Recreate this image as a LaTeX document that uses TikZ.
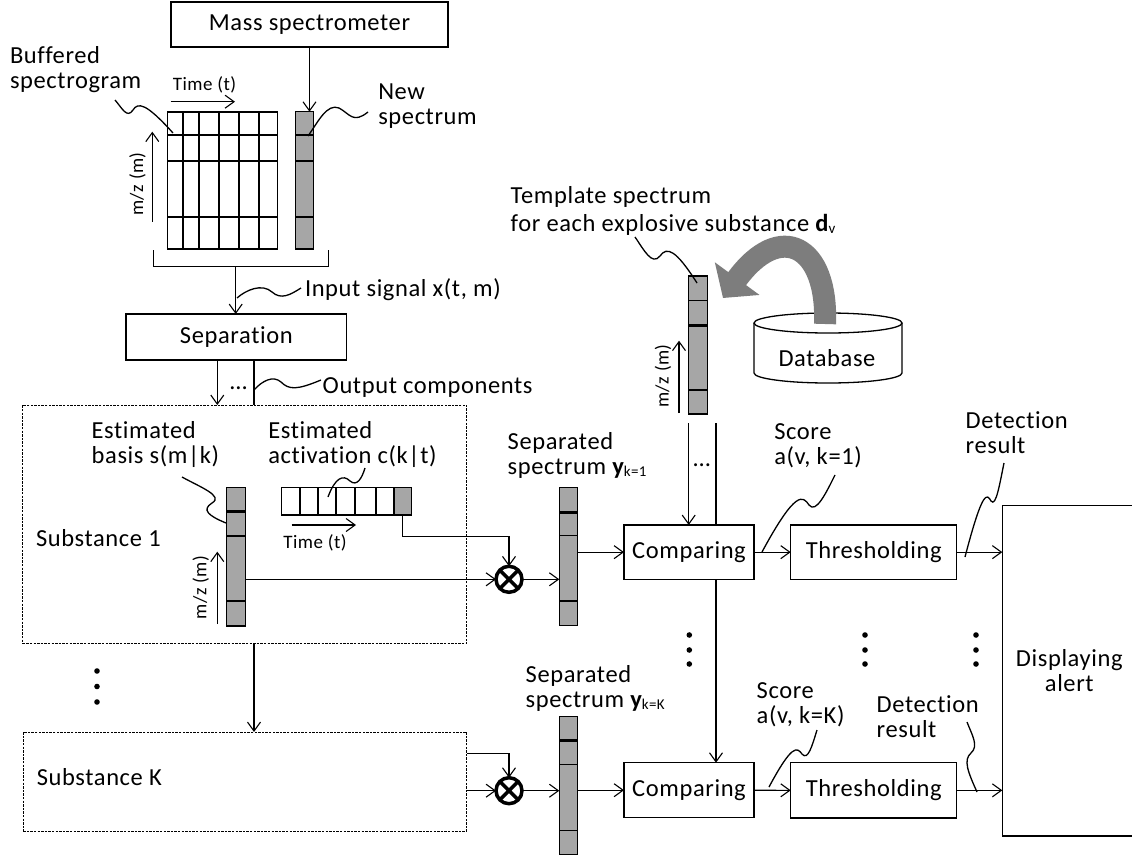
\documentclass[tikz,border=0pt]{standalone}
\usepackage{fontspec}
\setmainfont{Carlito}[LetterSpace=2.5,Ligatures=NoCommon]
\usetikzlibrary{arrows.meta,calc}
\definecolor{colg}{RGB}{166,166,166}
\definecolor{bigarr}{RGB}{125,125,125}
\begin{document}
\begin{tikzpicture}[x=1pt,y=-1pt,
 every node/.style={inner sep=0pt, outer sep=0pt, font=\fontsize{24.5}{25}\selectfont},
 bx/.style={draw, line width=1.3pt, fill=white},
 dbox/.style={draw, line width=0.9pt, dash pattern=on 2.4pt off 1.2pt, fill=white},
 cl/.style={draw, line width=1.4pt, fill=colg},
 arr/.style={line width=1.1pt, -{Straight Barb[length=9pt,width=13pt]}},
 thk/.style={line width=2.6pt},
 thn/.style={line width=1.1pt},
 call/.style={line width=1.3pt},
 small/.style={font=\fontsize{19}{20}\selectfont},
 mult/.style={circle, draw, line width=3.5pt, minimum size=26pt, fill=white}
]
\useasboundingbox (0,0) rectangle (1132,859);
\fill[white] (0,0) rectangle (1132,859);

% ---- top: mass spectrometer and spectrogram
\node[bx, minimum width=277, minimum height=45] (mass) at (309.5,24.5) {Mass spectrometer};

\node[draw, line width=1.6pt, fill=white, anchor=north west, minimum width=110, minimum height=137.3] (spg) at (167.3,111.7) {};
\foreach \x in {183.3,199,219,239,259} \draw[line width=1.8pt] (\x,111.7) -- (\x,249);
\draw[thn] (167.3,135) -- (277.3,135);
\draw[thk] (167.3,161) -- (277.3,161);
\draw[thk] (167.3,217) -- (277.3,217);

\node[cl, anchor=north west, minimum width=17.6, minimum height=137.3] (newsp) at (295.7,111.7) {};
\draw[thn] (295.7,135) -- (313.3,135);
\draw[thk] (295.7,161) -- (313.3,161);
\draw[thk] (295.7,217) -- (313.3,217);

\draw[arr] (mass.south) -- (mass.south |- newsp.north);

\coordinate (ta1) at (170.7,101.7); \coordinate (ta2) at (235,101.7);
\draw[arr] (ta1) -- (ta2);
\node[small] (tlab1) at (204.5,85) {Time (t)};
\coordinate (ma1) at (152.3,221.7); \coordinate (ma2) at (152.3,131.7);
\draw[arr] (ma1) -- (ma2);
\node[small, rotate=90] (mlab1) at (137.5,184) {m/z (m)};

\node[anchor=west, align=left] (lbuf) at (10,69.5) {Buffered\\spectrogram};
\node[anchor=west, align=left] (lnew) at (378.3,106) {New\\spectrum};
\draw[call] (115,100) .. controls (122,108) and (127,119) .. (133,110) .. controls (138,102) and (146,103) .. (173,133);
\draw[call] (308,136) .. controls (318,122) and (327,103) .. (339,108) .. controls (350,114) and (353,124) .. (368,112);

% bracket
\coordinate (br1) at (153.3,250); \coordinate (br2) at (328.3,250);
\coordinate (brm) at (235.7,266.7);
\draw[thn] (br1) -- (br1 |- brm) -- (br2 |- brm) -- (br2);

\node[bx, minimum width=220.7, minimum height=46] (sep) at (236.35,337) {Separation};
\draw[arr] (brm) -- (brm |- sep.north);
\node[anchor=west] (linp) at (305,290) {Input signal x(t, m)};
\draw[call] (237,298) .. controls (246,290) and (262,283) .. (272,292) .. controls (281,300) and (290,295) .. (301,288);

% ---- template and database
\node[anchor=west, align=left] (ltmp) at (510.7,211) {Template spectrum\\[3pt]for each explosive substance {\bfseries d}\raisebox{-2pt}{\fontsize{15}{15}\selectfont v}};
\node[cl, anchor=north west, minimum width=19, minimum height=138] (tmpl) at (688.3,276) {};
\draw[thn] (688.3,300.7) -- (707.3,300.7);
\draw[thk] (688.3,325.7) -- (707.3,325.7);
\draw[thk] (688.3,390) -- (707.3,390);
\coordinate (mt1) at (679,413); \coordinate (mt2) at (679,340.7);
\draw[arr] (mt1) -- (mt2);
\node[small, rotate=90] (mlab2) at (663,376) {m/z (m)};
\draw[call] (635,237) .. controls (644,250) and (652,266) .. (660,256) .. controls (667,246) and (676,250) .. (697,283);

\draw[line width=1.3pt, fill=white] (754,323) -- (754,373) arc[start angle=180,end angle=360,x radius=74pt,y radius=10pt] -- (902,323);
\draw[line width=1.3pt, fill=white] (828,323) ellipse [x radius=74pt, y radius=10pt];
\node (db) at (827,358) {Database};
\coordinate (ba1) at (825,324); \coordinate (ba2) at (723,298);
\draw[line width=22pt, color=bigarr, -{Triangle[length=24pt,width=54pt]}] (ba1) .. controls (828,245) and (780,220) .. (ba2);

% ---- substance 1
\node[dbox, minimum width=444, minimum height=238.3] (sub1) at (244.7,524.15) {};
\node[anchor=west] (lsub1) at (36,538) {Substance 1};
\coordinate (o1) at (217.3,360); \coordinate (o2) at (254,360);
\draw[arr] (o1) -- (o1 |- sub1.north);
\draw[thn] (o2) -- (o2 |- sub1.north);
\node (dots1) at (238.5,388) {\dots};
\node[anchor=west] (lout) at (322.7,388) {Output components};
\draw[call] (254,390) .. controls (262,381) and (273,375) .. (281,382) .. controls (289,390) and (297,390) .. (321,380);

\node[cl, anchor=north west, minimum width=19, minimum height=138.7] (basis) at (226.7,487.3) {};
\draw[thk] (226.7,511.7) -- (245.7,511.7);
\draw[thn] (226.7,536) -- (245.7,536);
\draw[thk] (226.7,601) -- (245.7,601);
\coordinate (mb1) at (217.3,624); \coordinate (mb2) at (217.3,551.7);
\draw[arr] (mb1) -- (mb2);
\node[small, rotate=90] (mlab3) at (200.8,587.5) {m/z (m)};
\node[anchor=west, align=left] (lbas) at (91.7,445) {Estimated\\basis s(m|k)};
\draw[call] (182,477) .. controls (200,487) and (224,496) .. (212,503) .. controls (201,510) and (209,516) .. (226,523);

\node[draw, line width=1.4pt, fill=white, anchor=north west, minimum width=130, minimum height=27.7] (act) at (281.7,487.3) {};
\node[cl, anchor=north west, minimum width=17.7, minimum height=27.7] (actl) at (394,487.3) {};
\foreach \x in {300,318.3,335.7,355,376} \draw[line width=1.8pt] (\x,487.3) -- (\x,515);
\node[anchor=west, align=left] (lact) at (268.3,445) {Estimated\\activation c(k|t)};
\draw[call] (365,468) .. controls (362,478) and (357,487) .. (350,481) .. controls (343,474) and (335,478) .. (328,497);
\coordinate (tb1) at (291.7,525); \coordinate (tb2) at (356,525);
\draw[arr] (tb1) -- (tb2);
\node[small] (tlab2) at (315,542.7) {Time (t)};

% multiplier 1
\node[mult] (m1) at (509,579.3) {};
\draw[line width=3.5pt] (m1.north west) -- (m1.south east) (m1.north east) -- (m1.south west);
\draw[arr] (basis.east |- m1) -- (m1.west);
\draw[arr] (actl.south) -- ++(0,21.7) -| (m1.north);

\node[cl, anchor=north west, minimum width=18.4, minimum height=138.4] (sep1) at (559.3,487.3) {};
\draw[thk] (559.3,512.3) -- (577.7,512.3);
\draw[thn] (559.3,535.3) -- (577.7,535.3);
\draw[thk] (559.3,601) -- (577.7,601);
\node[anchor=west, align=left] (lsep1) at (507.7,455.5) {Separated\\spectrum {\bfseries y}\raisebox{-2pt}{\fontsize{15}{15}\selectfont k=1}};
\draw[arr] (m1.east) -- (m1 -| sep1.west);

\node[bx, minimum width=130, minimum height=54.3] (comp1) at (689,552.15) {Comparing};
\node[bx, minimum width=166, minimum height=54.3] (th1) at (873.7,552.15) {Thresholding};
\node[bx, minimum width=133.7, minimum height=330.3] (disp) at (1069.15,670.85) {};
\node[align=center] (ldisp) at (1069.3,671) {Displaying\\alert};

\draw[arr] (sep1.east |- comp1) -- (comp1.west);
\draw[arr] (comp1.east) -- (th1.west);
\draw[arr] (th1.east) -- (th1.east -| disp.west);

\coordinate (t1) at (688.7,423.3); \coordinate (t2) at (716,423.3);
\draw[arr] (t1) -- (t1 |- comp1.north);
\draw[thn] (t2) -- (t2 |- comp1.north);
\node (dots2) at (701.7,465) {\dots};

\node[anchor=west, align=left] (lsc1) at (774.3,446) {Score\\a(v, k=1)};
\draw[call] (835,475) .. controls (826,493) and (816,514) .. (809,505) .. controls (803,496) and (796,489) .. (762,552);
\node[anchor=west, align=left] (ldet1) at (965.7,433) {Detection\\result};
\draw[call] (1004,463) .. controls (1000,482) and (996,508) .. (991,501) .. controls (987,494) and (983,488) .. (965,557);

% vertical dots
\foreach \x/\y in {97/671,97/686.5,97/702, 689.3/635,689.3/650,689.3/664, 865/635,865/650,865/664, 976/635,976/650,976/664}
  \fill (\x,\y) circle[radius=2.8pt];

% ---- substance K
\node[dbox, minimum width=443.6, minimum height=99] (subK) at (245,781.5) {};
\node[anchor=west] (lsubK) at (36.8,777.5) {Substance K};
\draw[arr] (o2 |- sub1.south) -- (o2 |- subK.north);

\node[mult] (mK) at (509,790.7) {};
\draw[line width=3.5pt] (mK.north west) -- (mK.south east) (mK.north east) -- (mK.south west);
\draw[arr] ($(subK.north east)+(0,21.3)$) -| (mK.north);
\draw[arr] (subK.east |- mK) -- (mK.west);

\node[cl, anchor=north west, minimum width=18.4, minimum height=137.6] (sepK) at (559.3,716.7) {};
\draw[thk] (559.3,740.7) -- (577.7,740.7);
\draw[thn] (559.3,764.3) -- (577.7,764.3);
\draw[thn] (559.3,830.7) -- (577.7,830.7);
\node[anchor=west, align=left] (lsepK) at (525.7,688.5) {Separated\\spectrum {\bfseries y}\raisebox{-2pt}{\fontsize{15}{15}\selectfont k=K}};
\draw[arr] (mK.east) -- (mK -| sepK.west);

\node[bx, minimum width=130, minimum height=55] (compK) at (689,790.2) {Comparing};
\node[bx, minimum width=166, minimum height=55.3] (thK) at (873.7,790.35) {Thresholding};
\draw[arr] (sepK.east |- compK) -- (compK.west);
\draw[arr] (compK.east) -- (thK.west);
\draw[arr] (thK.east) -- (thK.east -| disp.west);
\draw[arr] (comp1.south -| t2) -- (t2 |- compK.north);

\node[anchor=west, align=left] (lscK) at (756.7,704.5) {Score\\a(v, k=K)};
\draw[call] (817,730) .. controls (812,746) and (808,761) .. (802,754) .. controls (797,747) and (792,744) .. (769,787);
\node[anchor=west, align=left] (ldetK) at (876.7,716.5) {Detection\\result};
\draw[call] (967,722) .. controls (972,735) and (979,746) .. (971,753) .. controls (963,760) and (968,772) .. (977,792);
\end{tikzpicture}
\end{document}
